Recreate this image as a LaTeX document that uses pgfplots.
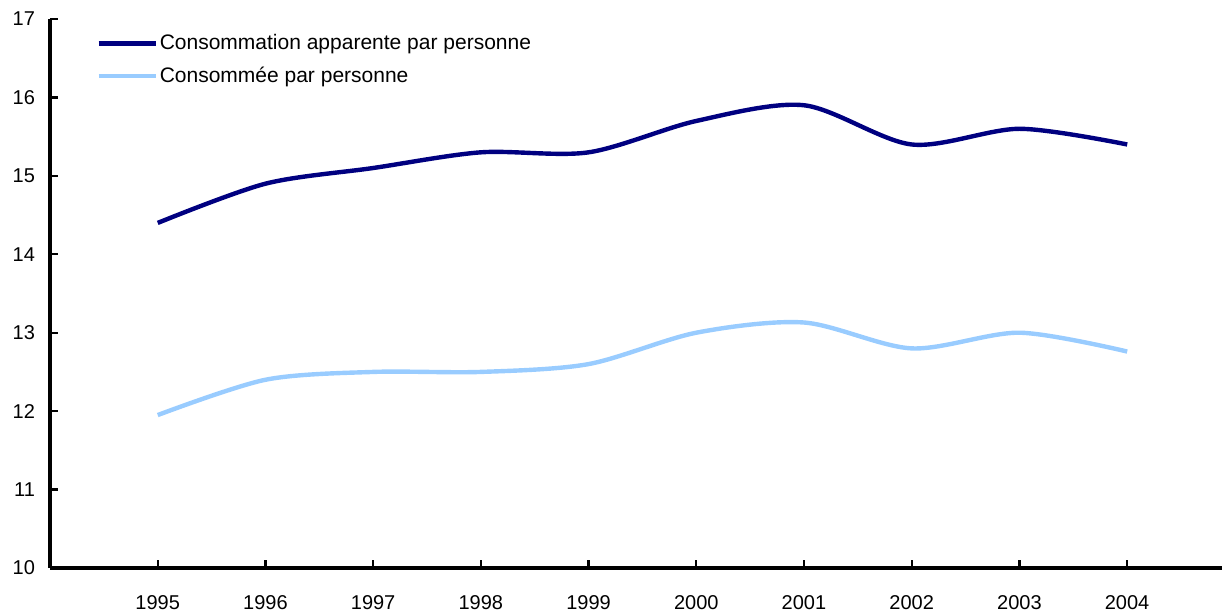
\documentclass[border=0pt]{standalone}
\usepackage{pgfplots}
\pgfplotsset{compat=1.18}
\usepackage{fontspec}
\setmainfont{Liberation Sans}
\definecolor{darkser}{RGB}{0,0,128}
\definecolor{lightser}{RGB}{153,204,255}
\begin{document}
\fontsize{10}{12}\selectfont
\begin{tikzpicture}
\begin{axis}[
  at={(0,0)}, anchor=south west,
  scale only axis,
  width=586pt, height=274.5pt,
  xmin=1994, xmax=2004.88,
  ymin=10, ymax=17,
  axis x line*=bottom, axis y line*=left,
  every outer x axis line/.append style={line width=1.6pt, -},
  every outer y axis line/.append style={line width=1.6pt, -},
  axis line style={line width=1.6pt, -},
  xtick={1995,...,2004},
  ytick={10,...,17},
  xticklabel style={/pgf/number format/1000 sep={}, yshift=-10pt},
  yticklabel style={xshift=-4pt},
  x tick label style={font=\fontsize{10}{12}\selectfont},
  y tick label style={font=\fontsize{10}{12}\selectfont},
  /pgf/number format/assume math mode=true,
  tick style={line width=1.1pt, black},
  tick align=inside,
  major tick length=4pt,
  legend style={draw=none, fill=none, at={(23pt,268pt)}, anchor=north west,
    font=\fontsize{10.5}{12.5}\selectfont, row sep=5pt, inner sep=0pt,
    nodes={inner ysep=1pt, inner xsep=1pt}},
  legend cell align=left,
  legend image code/.code={\draw[#1, line width=2.2pt] (0pt,0pt) -- (28.5pt,0pt);},
  clip=false,
]
\addplot[darkser, line width=2.2pt, smooth, tension=0.5] coordinates {
(1995,14.4) (1996,14.9) (1997,15.1) (1998,15.3) (1999,15.3)
(2000,15.7) (2001,15.9) (2002,15.4) (2003,15.6) (2004,15.4)};
\addlegendentry{Consommation apparente par personne}
\addplot[lightser, line width=2.2pt, smooth, tension=0.5] coordinates {
(1995,11.95) (1996,12.4) (1997,12.5) (1998,12.5) (1999,12.6)
(2000,13.0) (2001,13.13) (2002,12.8) (2003,13.0) (2004,12.76)};
\addlegendentry{Consommée par personne}
\end{axis}
\pgfresetboundingbox
\path[use as bounding box] (-25pt,-22.5pt) rectangle (587.5pt,284pt);
\end{tikzpicture}
\end{document}
